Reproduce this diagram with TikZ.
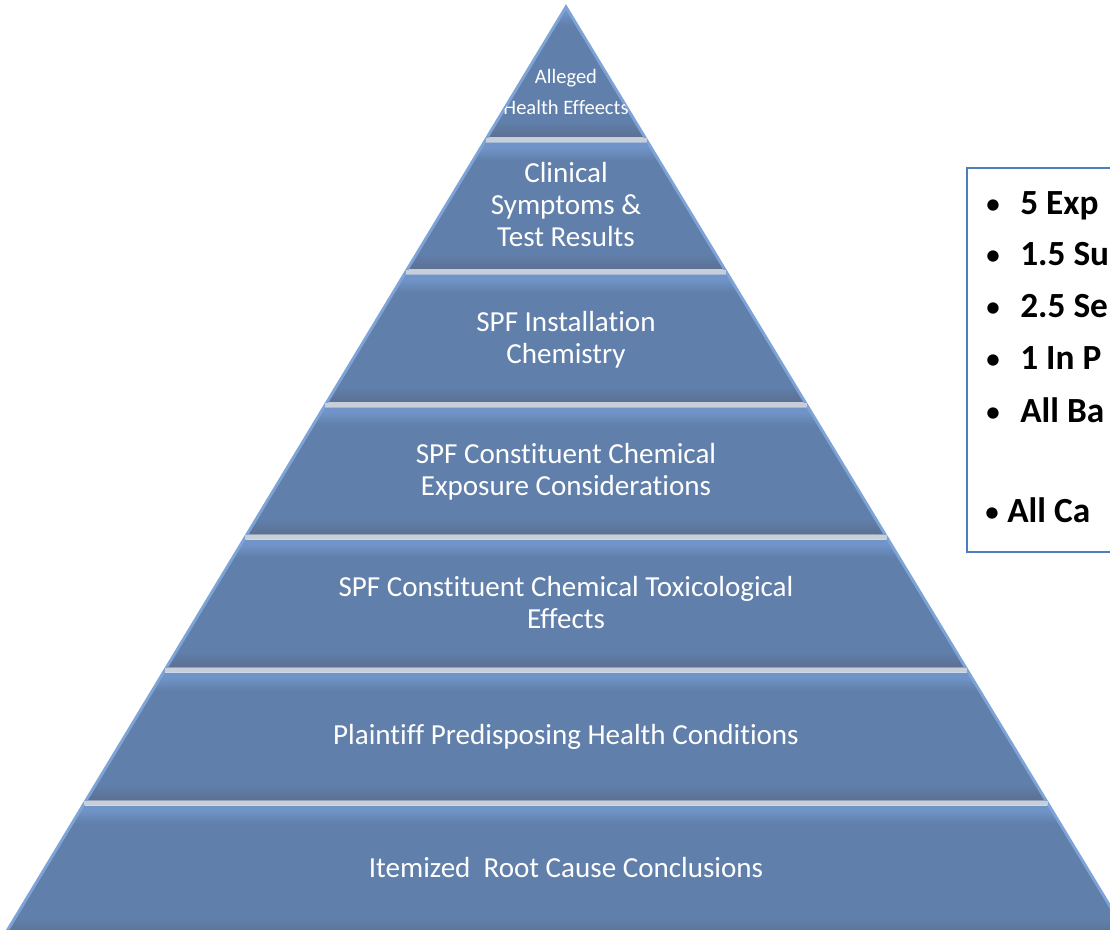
\documentclass[tikz,border=0pt]{standalone}
\usepackage{fontspec}
\setmainfont{Carlito}[Ligatures=NoCommon,RawFeature=-liga]
\definecolor{tierbase}{RGB}{96,127,170}
\definecolor{tierlight}{RGB}{112,148,200}
\definecolor{tierdark}{RGB}{92,112,146}
\definecolor{tierrim}{RGB}{126,163,215}
\definecolor{tiergap}{RGB}{200,207,216}
\definecolor{boxline}{RGB}{74,126,189}
\pgfdeclareverticalshading{tiershade}{100bp}{color(0bp)=(tierdark); color(25bp)=(tierdark); color(31bp)=(tierbase); color(68bp)=(tierbase); color(73bp)=(tierlight); color(100bp)=(tierlight)}
\tikzstyle{tier}=[shading=tiershade]
\tikzstyle{rim}=[draw=tierrim,line width=2.2pt,line join=miter]
\tikzstyle{gapline}=[draw=tiergap,line width=2.6pt]
\tikzstyle{tiertext}=[text=white,align=center,font=\fontsize{21.8}{24}\selectfont]
\tikzstyle{toptext}=[text=white,align=center,font=\fontsize{15.4}{23.25}\selectfont]
\tikzstyle{factbox}=[draw=boxline,line width=1.5pt,fill=white,inner sep=0pt,anchor=north west]
\tikzstyle{fact}=[font=\fontsize{26.5}{32}\selectfont\bfseries,anchor=base west,inner sep=0pt]
\tikzstyle{bulletmark}=[font=\fontsize{24}{30}\selectfont,anchor=base,inner sep=0pt]

\begin{document}
\begin{tikzpicture}[x=0.75pt,y=-0.75pt]
\useasboundingbox (0,0) rectangle (1110,930);

\coordinate (apex) at (566,7);
\coordinate (baseL) at (4.6,935);
\coordinate (baseR) at (1127.4,935);

\shade[tier] (apex) -- (644.95,137.5) -- (487.05,137.5) -- cycle;
\shade[tier] (484.0,142.5) -- (648.0,142.5) -- (724.8,269.5) -- (407.2,269.5) -- cycle;
\shade[tier] (404.2,274.5) -- (727.8,274.5) -- (805.3,402.5) -- (326.7,402.5) -- cycle;
\shade[tier] (323.7,407.5) -- (808.3,407.5) -- (885.1,534.5) -- (246.9,534.5) -- cycle;
\shade[tier] (243.8,539.5) -- (888.2,539.5) -- (965.6,667.5) -- (166.4,667.5) -- cycle;
\shade[tier] (163.4,672.5) -- (968.6,672.5) -- (1046.1,800.5) -- (85.9,800.5) -- cycle;
\shade[tier] (82.9,805.5) -- (1049.1,805.5) -- (baseR) -- (baseL) -- cycle;

\draw[rim] (baseL) -- (apex) -- (baseR);

\draw[gapline] (485.5,140) -- (646.5,140);
\draw[gapline] (405.7,272) -- (726.3,272);
\draw[gapline] (325.2,405) -- (806.8,405);
\draw[gapline] (245.4,537) -- (886.6,537);
\draw[gapline] (164.9,670) -- (967.1,670);
\draw[gapline] (84.4,803) -- (1047.6,803);

\begin{scope}
\clip (apex) -- (644.95,137.5) -- (487.05,137.5) -- cycle;
\node[toptext] (t1) at (566,92) {Alleged\\Health Effeects};
\end{scope}
\node[tiertext] (t2) at (566,205) {Clinical\\Symptoms \&\\Test Results};
\node[tiertext] (t3) at (566,340) {SPF Installation\\Chemistry};
\node[tiertext] (t4) at (566,472) {SPF Constituent Chemical\\Exposure Considerations};
\node[tiertext] (t5) at (566,603) {SPF Constituent Chemical Toxicological\\Effects};
\node[tiertext] (t6) at (566,737) {Plaintiff Predisposing Health Conditions};
\node[tiertext] (t7) at (566,868) {Itemized~ Root Cause Conclusions};

\node[factbox,minimum width=150pt,minimum height=288pt] (facts) at (966,167) {};
\node[bulletmark] (m1) at (993,215) {\textbullet};
\node[fact] (f1) at (1020,215) {5 Exp};
\node[bulletmark] (m2) at (993,266) {\textbullet};
\node[fact] (f2) at (1020,266) {1.5 Su};
\node[bulletmark] (m3) at (993,318) {\textbullet};
\node[fact] (f3) at (1020,318) {2.5 Se};
\node[bulletmark] (m4) at (993,370) {\textbullet};
\node[fact] (f4) at (1020,370) {1 In P};
\node[bulletmark] (m5) at (993,422) {\textbullet};
\node[fact] (f5) at (1020,422) {All Ba};
\node[bulletmark] (m6) at (992,522) {\textbullet};
\node[fact] (f6) at (1007,522) {All Ca};
\end{tikzpicture}
\end{document}
